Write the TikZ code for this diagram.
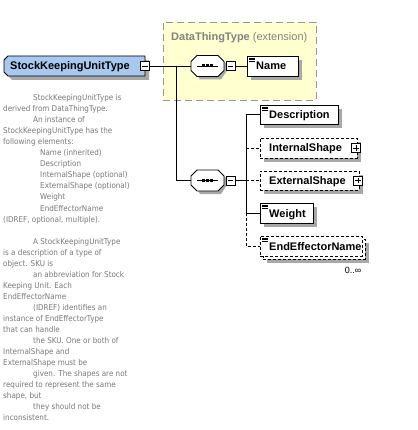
\documentclass[tikz,border=0pt]{standalone}
\usepackage{fontspec}
\setmainfont{Liberation Sans}
\newfontfamily\docfont[FakeStretch=0.9]{DejaVu Sans}
\usetikzlibrary{calc}
\definecolor{typeblue}{RGB}{168,200,240}
\definecolor{shadowgray}{RGB}{168,168,168}
\definecolor{extyellow}{RGB}{255,255,208}
\definecolor{extborder}{RGB}{150,150,150}
\definecolor{doctext}{RGB}{120,120,120}
\definecolor{exttext}{RGB}{130,130,130}
\tikzset{
  elbox/.style={rectangle, draw=black, fill=white, line width=0.8pt, inner sep=0pt, outer sep=0pt, anchor=north west},
  optbox/.style={elbox, dash pattern=on 3pt off 2pt},
  ghost/.style={rectangle, inner sep=0pt, outer sep=0pt},
  lbl/.style={font=\bfseries\fontsize{11}{13}\selectfont, anchor=base west, inner sep=0pt},
  doc/.style={font=\docfont\fontsize{8}{10}\selectfont, text=doctext, anchor=base west, inner sep=0pt},
  conn/.style={line width=0.8pt},
  optconn/.style={line width=0.8pt, dash pattern=on 3pt off 2pt},
  pmbox/.style={rectangle, draw=black, fill=white, line width=0.7pt, minimum size=9pt, inner sep=0pt, outer sep=0pt},
}
% element box with shadow: name, x, y, w, h, style
\newcommand\elembox[6]{%
  \fill[shadowgray] (#2+4,#3+4) rectangle ++(#4,#5);
  \node[#6, minimum width=#4pt, minimum height=#5pt] (#1) at (#2,#3) {};}
\newcommand\simpleicon[1]{%
  \foreach \dy in {2,3.7,5.4}{\draw[line width=0.5pt] ($(#1.north west)+(2,\dy)$) -- ++(5.5,0);}}
\newcommand\minusbox[3]{%
  \node[pmbox] (#1) at (#2,#3) {};
  \draw[line width=0.7pt] ($(#1.center)+(-2.8,0)$) -- ($(#1.center)+(2.8,0)$);}
\newcommand\plusbox[3]{%
  \node[pmbox] (#1) at (#2,#3) {};
  \draw[line width=0.7pt] ($(#1.center)+(-2.8,0)$) -- ($(#1.center)+(2.8,0)$)
     ($(#1.center)+(0,-2.8)$) -- ($(#1.center)+(0,2.8)$);}
% sequence compositor: name, cx, cy
\newcommand\compositor[3]{%
  \node[ghost, minimum width=33pt, minimum height=21pt] (#1) at (#2,#3) {};
  \fill[shadowgray] ($(#1.north west)+(9,3)$) -- ($(#1.north east)+(-3,3)$) -- ($(#1.east)+(3,-1.5)$)
     -- ($(#1.east)+(3,4.5)$) -- ($(#1.south east)+(-3,3)$) -- ($(#1.south west)+(9,3)$)
     -- ($(#1.west)+(3,4.5)$) -- ($(#1.west)+(3,-1.5)$) -- cycle;
  \draw[line width=0.8pt, fill=white] ($(#1.north west)+(6,0)$) -- ($(#1.north east)+(-6,0)$) -- ($(#1.east)+(0,-4.5)$)
     -- ($(#1.east)+(0,4.5)$) -- ($(#1.south east)+(-6,0)$) -- ($(#1.south west)+(6,0)$)
     -- ($(#1.west)+(0,4.5)$) -- ($(#1.west)+(0,-4.5)$) -- cycle;
  \draw[line width=0.8pt] ($(#1.west)+(6,0)$) -- ($(#1.east)+(-6,0)$);
  \foreach \dx in {-3.8,0,3.8}{\fill ($(#1.center)+(\dx-1.5,-1.5)$) rectangle ++(3,3);}}
\begin{document}
\begin{tikzpicture}[x=1pt,y=-1pt]
\useasboundingbox (0,0) rectangle (417,430);
% extension box
\node[rectangle, draw=extborder, fill=extyellow, line width=0.8pt, dash pattern=on 7pt off 4pt,
      minimum width=153pt, minimum height=78pt, inner sep=0pt, outer sep=0pt, anchor=north west] (ext) at (163,22) {};
\node[anchor=base west, inner sep=0pt, text=exttext, font=\fontsize{11}{13}\selectfont] (extl) at (171,41)
   {\textbf{DataThingType} (extension)};
% main type box
\node[ghost, minimum width=141pt, minimum height=20pt, anchor=north west] (skut) at (4,56) {};
\fill[shadowgray] ($(skut.north west)+(8,4)$) -- ($(skut.north east)+(4,4)$) -- ($(skut.south east)+(4,4)$)
   -- ($(skut.south west)+(8,4)$) -- ($(skut.south west)+(4,0)$) -- ($(skut.north west)+(4,8)$) -- cycle;
\draw[line width=0.8pt, fill=typeblue] ($(skut.north west)+(4,0)$) -- (skut.north east) -- (skut.south east)
   -- ($(skut.south west)+(4,0)$) -- ($(skut.south west)+(0,-4)$) -- ($(skut.north west)+(0,4)$) -- cycle;
\node[lbl] (skutl) at (10,70) {StockKeepingUnitType};
\minusbox{skutm}{145}{66}
\coordinate (br) at (176,66);
% first sequence
\compositor{c1}{207.5}{66}
\minusbox{c1m}{230.5}{66}
\elembox{name}{247}{56}{51}{20}{elbox}
\simpleicon{name}
\node[lbl] (namel) at (256,70) {Name};
% second sequence
\compositor{c2}{207.5}{180.5}
\minusbox{c2m}{230.5}{180.5}
\coordinate (bus) at (246,180.5);
% children
\elembox{desc}{260}{105}{78}{19}{elbox}
\simpleicon{desc}
\node[lbl] (descl) at (269,118.5) {Description};
\elembox{ints}{260}{138}{97}{20}{optbox}
\node[lbl] (intsl) at (269,152) {InternalShape};
\plusbox{intsp}{356}{148}
\elembox{exts}{260}{171}{99}{19}{optbox}
\node[lbl] (extsl) at (269,184.5) {ExternalShape};
\plusbox{extsp}{358}{180.5}
\elembox{wt}{260}{203}{53}{20}{elbox}
\simpleicon{wt}
\node[lbl] (wtl) at (269,217) {Weight};
\fill[shadowgray] (267,243) rectangle ++(102,20);
\node[optbox, minimum width=102pt, minimum height=20pt] (eefb) at (263,239) {};
\node[optbox, minimum width=102pt, minimum height=20pt] (eef) at (260,236) {};
\simpleicon{eef}
\node[lbl] (eefl) at (269,250) {EndEffectorName};
\node[anchor=base, inner sep=0pt, font=\fontsize{9}{11}\selectfont] (mult) at (353,273) {0..∞};
% connectors
\draw[conn] (skutm.east) -- (c1.west);
\draw[conn] (br) |- (c2.west);
\draw[conn] (c1m.east) -- (name.west);
\draw[conn] (c2m.east) -- (bus);
\draw[conn] (bus) |- (desc.west);
\draw[conn] (bus) |- (wt.west);
\draw[optconn] (ints.west -| bus) -- (ints.west);
\draw[optconn] (bus) -- (exts.west);
\draw[optconn] (wt.west -| bus) |- (eef.west);
% documentation
\foreach \xx/\yy/\tt [count=\i] in {
  33/101/{StockKeepingUnitType is},
  3/112/{derived from DataThingType.},
  33/123/{An instance of},
  3/134/{StockKeepingUnitType has the},
  3/145/{following elements:},
  40/156/{Name (inherited)},
  40/167/{Description},
  40/178/{InternalShape (optional)},
  40/189/{ExternalShape (optional)},
  40/200/{Weight},
  40/211/{EndEffectorName},
  3/222/{(IDREF, optional, multiple).},
  33/244/{A StockKeepingUnitType},
  3/255/{is a description of a type of},
  3/266/{object. SKU is},
  33/277/{an abbreviation for Stock},
  3/288/{Keeping Unit. Each},
  3/299/{EndEffectorName},
  33/310/{(IDREF) identifies an},
  3/321/{instance of EndEffectorType},
  3/332/{that can handle},
  33/343/{the SKU. One or both of},
  3/354/{InternalShape and},
  3/365/{ExternalShape must be},
  33/376/{given. The shapes are not},
  3/387/{required to represent the same},
  3/398/{shape, but},
  33/409/{they should not be},
  3/420/{inconsistent.}}
  {\node[doc] (doc\i) at (\xx,\yy) {\tt};}
\end{tikzpicture}
\end{document}
